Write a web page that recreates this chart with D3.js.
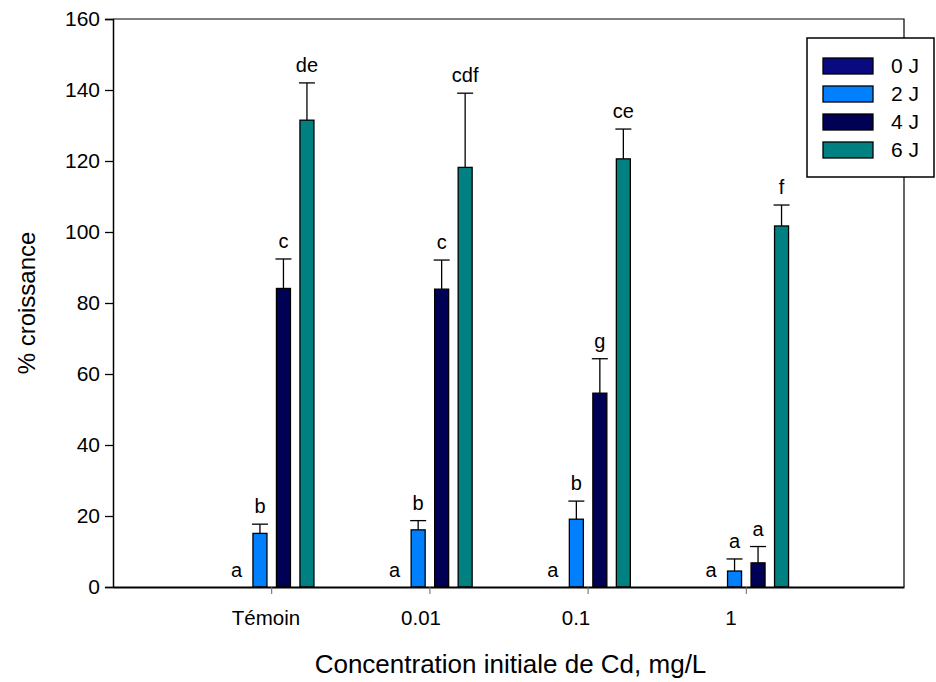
<!DOCTYPE html>
<html>
<head>
<meta charset="utf-8">
<script src="https://cdn.jsdelivr.net/npm/d3@7"></script>
<style>
  body { margin: 0; background: #fff; }
  svg { font-family: "Liberation Sans", Arial, sans-serif; }
</style>
</head>
<body>
<svg id="chart" width="936" height="682"></svg>
<script>
// data
const categories = ["Témoin", "0.01", "0.1", "1"];
const series = ["0 J", "2 J", "4 J", "6 J"];
const values0 = [0, 0, 0, 0];
const values2 = [15.1, 16.1, 19.1, 4.5];
const values4 = [84.1, 83.9, 54.6, 6.8];
const values6 = [131.5, 118.2, 120.6, 101.7];
const err0 = [0, 0, 0, 0];
const err2 = [2.6, 2.6, 5.1, 3.4];
const err4 = [8.3, 8.2, 9.7, 4.6];
const err6 = [10.5, 20.9, 8.4, 5.9];
const letters0 = ["a", "a", "a", "a"];
const letters2 = ["b", "b", "b", "a"];
const letters4 = ["c", "c", "g", "a"];
const letters6 = ["de", "cdf", "ce", "f"];
const yTicks = [0, 20, 40, 60, 80, 100, 120, 140, 160];
const colors = ["#0a0a80", "#0080ff", "#000055", "#008080"];

const allValues = [values0, values2, values4, values6];
const allErrors = [err0, err2, err4, err6];
const allLetters = [letters0, letters2, letters4, letters6];

const svg = d3.select("#chart");
const mLeft = 113, mRight = 904, mTop = 19, mBottom = 587;

// categories sit at 1..4 on a 0..5 axis
const x = d3.scaleLinear().domain([0, 5]).range([mLeft, mRight]);
// the tick labels drift a bit from the ticks in the original
const xLabel = d3.scaleLinear().domain([0, 5]).range([111, 886]);
const y = d3.scaleLinear().domain([0, 160]).range([mBottom, mTop]);

// bars within a group
const inner = d3.scaleBand().domain(series).range([-42.25, 42.25]).paddingInner(0.404);

// frame (top and right)
svg.append("path")
  .attr("d", `M${mLeft},${mTop}H${mRight}V${mBottom}`)
  .attr("fill", "none").attr("stroke", "#000").attr("stroke-width", 1.2);

// bars
const rows = [];
categories.forEach((c, i) => {
  series.forEach((s, j) => {
    rows.push({ cat: i, s: s, j: j, v: allValues[j][i], e: allErrors[j][i], t: allLetters[j][i] });
  });
});

const g = svg.append("g");
const bars = rows.filter(d => d.v > 0);

g.selectAll("rect.bar").data(bars).join("rect")
  .attr("class", "bar")
  .attr("x", d => x(d.cat + 1) + 0.5 + inner(d.s))
  .attr("y", d => y(d.v))
  .attr("width", inner.bandwidth())
  .attr("height", d => y(0) - y(d.v))
  .attr("fill", d => colors[d.j])
  .attr("stroke", "#000").attr("stroke-width", 1.3);

// error bars (upper only)
const cx = d => x(d.cat + 1) + 0.5 + inner(d.s) + inner.bandwidth() / 2;
g.selectAll("line.err").data(bars).join("line")
  .attr("class", "err")
  .attr("x1", cx).attr("x2", cx)
  .attr("y1", d => y(d.v)).attr("y2", d => y(d.v + d.e))
  .attr("stroke", "#000").attr("stroke-width", 1.3);
g.selectAll("line.cap").data(bars).join("line")
  .attr("class", "cap")
  .attr("x1", d => cx(d) - 8).attr("x2", d => cx(d) + 8)
  .attr("y1", d => y(d.v + d.e)).attr("y2", d => y(d.v + d.e))
  .attr("stroke", "#000").attr("stroke-width", 1.3);

// letters
g.selectAll("text.letter").data(rows).join("text")
  .attr("class", "letter")
  .attr("x", cx)
  .attr("y", d => d.v > 0 ? y(d.v + d.e) - 11 : y(0) - 10)
  .attr("text-anchor", "middle")
  .attr("font-size", 20)
  .text(d => d.t);

// y axis
const yAxis = svg.append("g")
  .attr("transform", `translate(${mLeft},0)`)
  .call(d3.axisLeft(y).tickValues(yTicks).tickSize(8).tickPadding(5).tickFormat(d3.format("d")));
yAxis.selectAll("text").attr("font-size", 21).attr("fill", "#000").attr("font-family", "Liberation Sans, Arial, sans-serif");
yAxis.select(".domain").attr("stroke-width", 1.5);
yAxis.selectAll(".tick line").attr("stroke-width", 1.3);

// x axis: ticks from x, labels from xLabel
const xAxis = svg.append("g")
  .attr("transform", `translate(0,${mBottom})`)
  .call(d3.axisBottom(x).tickValues([1, 2, 3, 4]).tickSize(7).tickSizeOuter(0).tickFormat(""));
xAxis.select(".domain").attr("stroke-width", 2);
xAxis.selectAll(".tick line").attr("stroke", "#666").attr("stroke-width", 1);

svg.append("g").selectAll("text").data(categories).join("text")
  .attr("x", (d, i) => xLabel(i + 1))
  .attr("y", mBottom + 38)
  .attr("text-anchor", "middle")
  .attr("font-size", 20.5)
  .text(d => d);

// axis titles
svg.append("text")
  .attr("x", (mLeft + mRight) / 2 + 2).attr("y", 673)
  .attr("text-anchor", "middle").attr("font-size", 26)
  .text("Concentration initiale de Cd, mg/L");
svg.append("text")
  .attr("transform", `translate(35,${(mTop + mBottom) / 2}) rotate(-90)`)
  .attr("text-anchor", "middle").attr("font-size", 24)
  .text("% croissance");

// legend
const legend = svg.append("g");
legend.append("rect")
  .attr("x", 807).attr("y", 38).attr("width", 127).attr("height", 139)
  .attr("fill", "#fff").attr("stroke", "#000").attr("stroke-width", 1.5);
const li = legend.selectAll("g.item").data(series).join("g")
  .attr("class", "item")
  .attr("transform", (d, i) => `translate(823,${58 + i * 28})`);
li.append("rect")
  .attr("width", 50).attr("height", 16)
  .attr("fill", (d, i) => colors[i])
  .attr("stroke", "#000").attr("stroke-width", 1.3);
li.append("text")
  .attr("x", 68).attr("y", 15)
  .attr("font-size", 21)
  .text(d => d);
</script>
</body>
</html>
